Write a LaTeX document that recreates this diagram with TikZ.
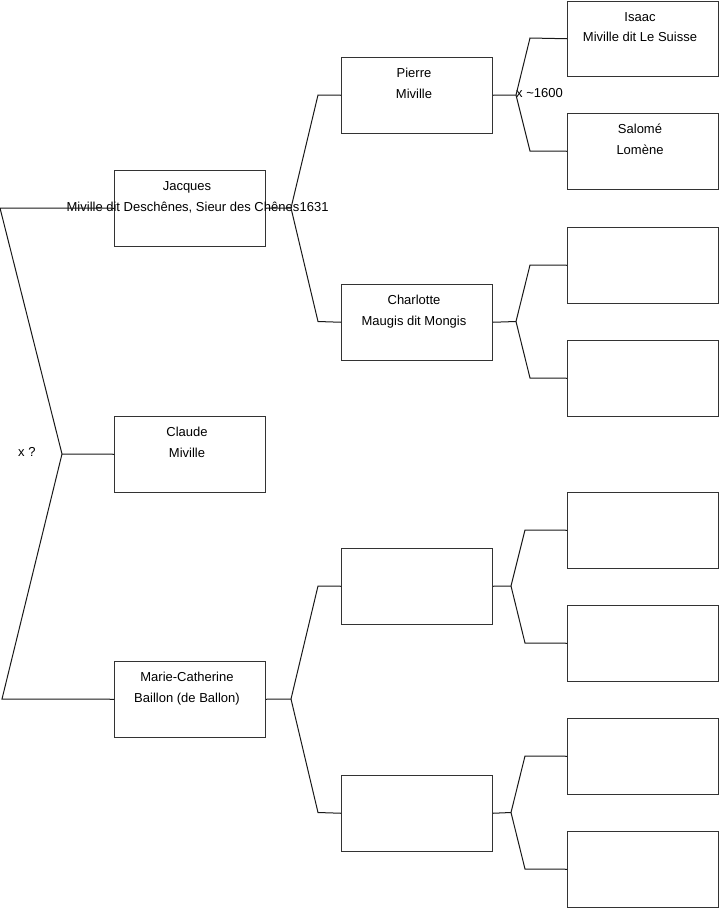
\documentclass[tikz,border=0pt]{standalone}
\usepackage{fontspec}
\setmainfont{Liberation Sans}
\begin{document}
\begin{tikzpicture}[x=1pt,y=-1pt,
  box/.style={draw=black!80,line width=1pt,minimum width=151pt,minimum height=75.5pt,inner sep=0pt,anchor=north west},
  conn/.style={draw=black!90,line width=1pt},
  txt/.style={font=\fontsize{13}{15}\selectfont,inner sep=0pt,anchor=base}]
\useasboundingbox (0,0) rectangle (719,908);
% boxes
\node[box] (jac) at (114,170) {};
\node[box] (cla) at (114,416) {};
\node[box] (mar) at (114,661) {};
\node[box] (pie) at (341,57) {};
\node[box] (cha) at (341,284) {};
\node[box] (mb1) at (341,548) {};
\node[box] (mb2) at (341,775) {};
\node[box] (isa) at (567,0.5) {};
\node[box] (sal) at (567,113) {};
\node[box] (c1) at (567,227) {};
\node[box] (c2) at (567,340) {};
\node[box] (m1) at (567,492) {};
\node[box] (m2) at (567,605) {};
\node[box] (n1) at (567,718) {};
\node[box] (n2) at (567,831) {};
% texts
\node[txt] (t1) at ([xshift=-3pt,yshift=-20.5pt]jac.north) {Jacques};
\node[txt] (t2) at ([xshift=-7pt,yshift=-41.5pt]jac.north) {Miville dit Deschênes, Sieur des Chênes};
\node[txt] (t3) at ([xshift=-3pt,yshift=-20.5pt]cla.north) {Claude};
\node[txt] (t4) at ([xshift=-3pt,yshift=-41.5pt]cla.north) {Miville};
\node[txt] (t5) at ([xshift=-3pt,yshift=-20.5pt]mar.north) {Marie-Catherine};
\node[txt] (t6) at ([xshift=-3pt,yshift=-41.5pt]mar.north) {Baillon (de Ballon)};
\node[txt] (t7) at ([xshift=-3pt,yshift=-20.5pt]pie.north) {Pierre};
\node[txt] (t8) at ([xshift=-3pt,yshift=-41.5pt]pie.north) {Miville};
\node[txt] (t9) at ([xshift=-3pt,yshift=-20.5pt]cha.north) {Charlotte};
\node[txt] (t10) at ([xshift=-3pt,yshift=-41.5pt]cha.north) {Maugis dit Mongis};
\node[txt] (t11) at ([xshift=-3pt,yshift=-20.5pt]isa.north) {Isaac};
\node[txt] (t12) at ([xshift=-3pt,yshift=-40.5pt]isa.north) {Miville dit Le Suisse};
\node[txt] (t13) at ([xshift=-3pt,yshift=-20.5pt]sal.north) {Salomé};
\node[txt] (t14) at ([xshift=-3pt,yshift=-41.5pt]sal.north) {Lomène};
% junction coordinates
\coordinate (L1) at (0,208);
\coordinate (L2) at (62,454);
\coordinate (L3) at (2,699);
\coordinate (J) at (291,208);
\coordinate (M) at (291,699);
\coordinate (P) at (516,95);
\coordinate (C) at (516,321.5);
\coordinate (B1) at (511,586);
\coordinate (B2) at (511,812.5);
% marriage labels
\node[txt,anchor=base west] (xq) at (18,456.5) {x ?};
\node[txt,anchor=base west] (x1600) at (516,97.5) {x \textasciitilde1600};
\node[txt,anchor=base west] (x1631) at (299.5,211.5) {1631};
% connectors
\draw[conn] (jac.west) -- (L1) -- (L2) -- (L3) -- (mar.west);
\draw[conn] (L2) -- (cla.west);
\draw[conn] (jac.east) -- (J);
\draw[conn] (J) -- (318,95) -- (pie.west);
\draw[conn] (J) -- (318,321.5) -- (cha.west);
\draw[conn] (mar.east) -- (M);
\draw[conn] (M) -- (318,586) -- (mb1.west);
\draw[conn] (M) -- (318,812.5) -- (mb2.west);
\draw[conn] (pie.east) -- (P);
\draw[conn] (P) -- (530,38) -- (isa.west);
\draw[conn] (P) -- (530,151) -- (sal.west);
\draw[conn] (cha.east) -- (C);
\draw[conn] (C) -- (530,265) -- (c1.west);
\draw[conn] (C) -- (530,378) -- (c2.west);
\draw[conn] (mb1.east) -- (B1);
\draw[conn] (B1) -- (525,530) -- (m1.west);
\draw[conn] (B1) -- (525,643) -- (m2.west);
\draw[conn] (mb2.east) -- (B2);
\draw[conn] (B2) -- (525,756) -- (n1.west);
\draw[conn] (B2) -- (525,869) -- (n2.west);
\end{tikzpicture}
\end{document}
